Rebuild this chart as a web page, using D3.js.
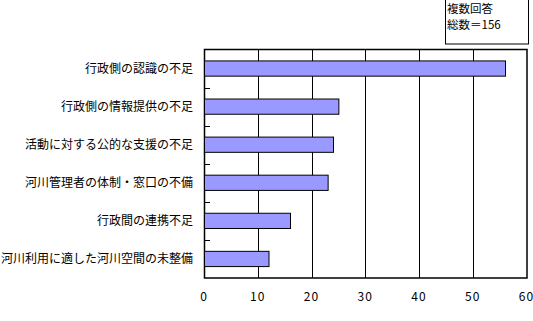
<!DOCTYPE html>
<html>
<head>
<meta charset="utf-8">
<script src="https://cdn.jsdelivr.net/npm/d3@7"></script>
<style>
body { margin: 0; background: #fff; }
text { font-family: "Noto Sans CJK JP", sans-serif; fill: #000; }
</style>
</head>
<body>
<script>
// datos del grafico
var categorias = ["行政側の認識の不足", "行政側の情報提供の不足", "活動に対する公的な支援の不足",
                  "河川管理者の体制・窓口の不備", "行政間の連携不足", "河川利用に適した河川空間の未整備"];
var valores = [56, 25, 24, 23, 16, 12];
var ticksX = [0, 10, 20, 30, 40, 50, 60];
var leyenda = ["複数回答", "総数＝156"];

var ancho = 533, alto = 321;
var izq = 204, der = 526.5, arriba = 49.5, abajo = 278;

var svg = d3.select("body").append("svg")
    .attr("width", ancho)
    .attr("height", alto);

var x = d3.scaleLinear().domain([0, 60]).range([izq, der]);
var y = d3.scaleBand().domain(categorias).range([arriba, abajo]).paddingInner(0.6).paddingOuter(0.3);
var yLim = d3.scaleBand().domain(categorias).range([arriba, abajo]);

// lineas de la cuadricula
svg.selectAll(".grid").data(ticksX.slice(1, -1)).enter().append("line")
    .attr("x1", function(d) { return Math.round(x(d)) + 0.5; })
    .attr("x2", function(d) { return Math.round(x(d)) + 0.5; })
    .attr("y1", arriba)
    .attr("y2", abajo)
    .style("stroke", "#000")
    .style("stroke-width", 1);

// marco
svg.append("rect")
    .attr("x", izq + 0.5).attr("y", arriba)
    .attr("width", der - izq).attr("height", abajo - arriba)
    .style("fill", "none").style("stroke", "#000").style("stroke-width", 1.5);

// barras
svg.selectAll(".barra").data(valores).enter().append("rect")
    .attr("x", izq + 0.5)
    .attr("y", function(d, i) { return y(categorias[i]); })
    .attr("width", function(d) { return x(d) - izq; })
    .attr("height", y.bandwidth())
    .style("fill", "#9999FF")
    .style("stroke", "#000")
    .style("stroke-width", 1);

// marcas del eje y (hacia dentro)
svg.selectAll(".tickY").data(categorias.slice(1)).enter().append("line")
    .attr("x1", izq)
    .attr("x2", izq + 6)
    .attr("y1", function(d) { return Math.round(yLim(d)) + 0.5; })
    .attr("y2", function(d) { return Math.round(yLim(d)) + 0.5; })
    .style("stroke", "#000");

// etiquetas del eje y
svg.selectAll(".etiqueta").data(categorias).enter().append("text")
    .attr("x", 193)
    .attr("y", function(d) { return yLim(d) + yLim.bandwidth() / 2; })
    .attr("dy", "0.35em")
    .attr("text-anchor", "end")
    .style("font-size", "12px")
    .text(function(d) { return d; });

// etiquetas del eje x
svg.selectAll(".tickX").data(ticksX).enter().append("text")
    .attr("x", function(d) { return x(d); })
    .attr("y", 297)
    .attr("dy", "0.35em")
    .attr("text-anchor", "middle")
    .style("font-size", "12px")
    .style("letter-spacing", "1px")
    .text(function(d) { return d; });

// leyenda
svg.append("rect")
    .attr("x", 445.5).attr("y", -1)
    .attr("width", 83).attr("height", 45)
    .style("fill", "none").style("stroke", "#000").style("stroke-width", 1);

svg.selectAll(".leyenda").data(leyenda).enter().append("text")
    .attr("x", 447)
    .attr("y", function(d, i) { return 9 + i * 16; })
    .attr("dy", "0.35em")
    .style("font-size", "11.5px")
    .text(function(d) { return d; });
</script>
</body>
</html>
